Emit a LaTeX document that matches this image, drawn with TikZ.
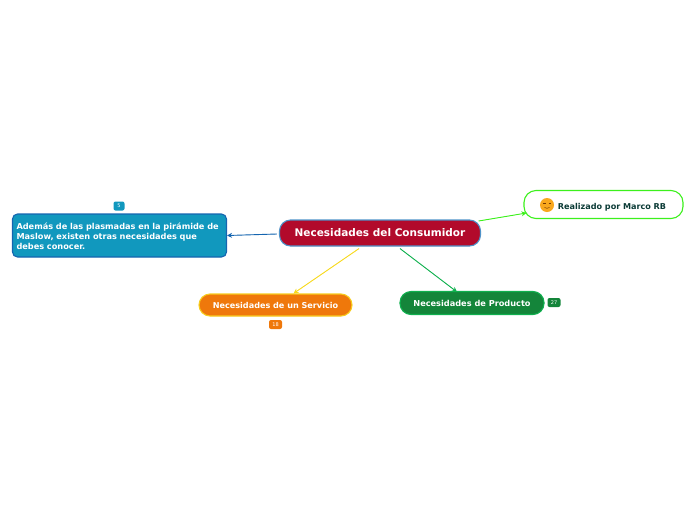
\documentclass[tikz,border=0pt]{standalone}
\usepackage{fontspec}
\setmainfont{DejaVu Sans}
\usetikzlibrary{arrows.meta}
\definecolor{mainred}{HTML}{B20A2B}
\definecolor{mainedge}{HTML}{4E93C9}
\definecolor{bluefill}{HTML}{1198BE}
\definecolor{blueedge}{HTML}{1565B0}
\definecolor{orangefill}{HTML}{EF780B}
\definecolor{orangeedge}{HTML}{F7CC1E}
\definecolor{greenfill}{HTML}{14853A}
\definecolor{greenedge}{HTML}{0FB04E}
\definecolor{lime}{HTML}{3CF01C}
\definecolor{darktext}{HTML}{0B3B36}
\definecolor{yellowline}{HTML}{F7D91E}
\definecolor{faceorange}{HTML}{F9A81E}
\tikzset{
  x=1pt,y=-1pt,
  topic/.style={draw,line width=1.1pt,inner sep=0pt,text=white,font=\bfseries,align=center},
  badge/.style={rounded corners=2pt,inner sep=0pt,minimum height=9pt,text=white,font=\fontsize{5}{5}\selectfont},
  link/.style={line width=0.9pt,-{Stealth[length=5pt,width=5pt]}},
}
\begin{document}
\begin{tikzpicture}
\useasboundingbox (0,0) rectangle (696,520);
\node[topic,draw=mainedge,fill=mainred,rounded corners=11pt,minimum width=201pt,minimum height=26pt,font=\bfseries\fontsize{10.5}{12}\selectfont] (main) at (380,233) {\raisebox{-1.2pt}{Necesidades del Consumidor}};
\node[topic,draw=blueedge,fill=bluefill,rounded corners=5pt,minimum width=214pt,minimum height=43pt,align=left,text width=206pt,font=\bfseries\fontsize{8.2}{10}\selectfont] (left) at (119.5,235.5) {\rule{0pt}{9pt}Además de las plasmadas en la pirámide de\\Maslow, existen otras necesidades que\\debes conocer.};
\node[topic,draw=lime,fill=white,text=darktext,rounded corners=12pt,minimum width=159pt,minimum height=28pt,font=\bfseries\fontsize{8.1}{10}\selectfont,text width=125pt,align=right] (real) at (603.5,204.5) {\rule{0pt}{11pt}Realizado por Marco RB};
\node[topic,draw=orangeedge,fill=orangefill,rounded corners=11pt,minimum width=153pt,minimum height=22pt,font=\bfseries\fontsize{8.1}{10}\selectfont] (serv) at (275.5,305) {\raisebox{-1pt}{Necesidades de un Servicio}};
\node[topic,draw=greenedge,fill=greenfill,rounded corners=11pt,minimum width=144pt,minimum height=23pt,font=\bfseries\fontsize{8.2}{10}\selectfont] (prod) at (472,303) {\raisebox{-0.7pt}{Necesidades de Producto}};
\node[badge,fill=bluefill,minimum width=11pt] (b1) at (119,206) {5};
\node[badge,fill=orangefill,minimum width=13pt] (b2) at (275.5,324.5) {18};
\node[badge,fill=greenfill,minimum width=13pt] (b3) at (554,302.5) {27};
% smiley
\node[circle,fill=faceorange,minimum size=14pt,inner sep=0pt] (face) at (547,205) {};
\draw[line width=0.5pt,color=black!55!orange] ([shift={(-4,-1.5)}]face.center) -- ++(2.5,0) ([shift={(1.5,-1.5)}]face.center) -- ++(2.5,0);
\draw[line width=0.5pt,color=black!55!orange] ([shift={(-2.5,2.5)}]face.center) .. controls ([shift={(-1,3.5)}]face.center) and ([shift={(1,3.5)}]face.center) .. ([shift={(2.5,2.5)}]face.center);
% connectors
\draw[link,draw=blueedge,fill=blueedge] ([xshift=-2pt,yshift=-1pt]main.west) -- ([yshift=0pt]left.east);
\draw[link,draw=yellowline,fill=yellowline] ([xshift=-21pt,yshift=-2pt]main.south) -- ([xshift=18pt,yshift=0pt]serv.north);
\draw[link,draw=greenedge,fill=greenedge] ([xshift=20pt,yshift=-2pt]main.south) -- ([xshift=-15pt,yshift=-1pt]prod.north);
\draw[link,draw=lime,fill=lime] ([xshift=-2.5pt,yshift=12pt]main.east) -- ([xshift=3pt,yshift=-8.5pt]real.west);
\end{tikzpicture}
\end{document}
